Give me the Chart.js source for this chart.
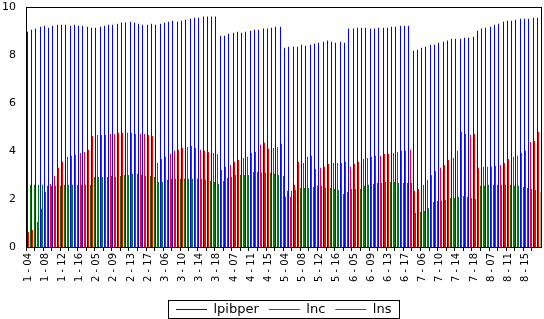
<!DOCTYPE html>
<html>
<head>
<meta charset="utf-8">
<script src="https://cdn.jsdelivr.net/npm/chart.js@4"></script>
<style>
  html, body { margin: 0; padding: 0; background: #fff; }
  #wrap { width: 544px; height: 319px; }
</style>
</head>
<body>
<div id="wrap"><canvas id="chart" width="544" height="319"></canvas></div>
<script>
// Cross-sections and years (one row of 15 years per cross-section)
const groups = [1, 2, 3, 4, 5, 6, 7, 8];
const years = ['04', '05', '06', '07', '08', '09', '10', '11', '12', '13', '14', '15', '16', '17', '18'];

const lpibper = [
    8.97, 9.05, 9.10, 9.18, 9.22, 9.14, 9.22, 9.26, 9.26, 9.26, 9.22, 9.26, 9.22, 9.22, 9.18,
    9.14, 9.14, 9.18, 9.22, 9.26, 9.26, 9.30, 9.35, 9.35, 9.39, 9.35, 9.30, 9.26, 9.26, 9.30,
    9.26, 9.30, 9.35, 9.39, 9.43, 9.39, 9.43, 9.47, 9.51, 9.55, 9.55, 9.60, 9.60, 9.60, 9.60,
    8.80, 8.80, 8.89, 8.93, 8.97, 8.93, 8.97, 9.01, 9.05, 9.05, 9.10, 9.10, 9.14, 9.18, 9.18,
    8.30, 8.34, 8.34, 8.34, 8.43, 8.39, 8.43, 8.47, 8.51, 8.55, 8.60, 8.55, 8.51, 8.55, 8.51,
    9.10, 9.10, 9.14, 9.14, 9.14, 9.10, 9.10, 9.14, 9.14, 9.14, 9.18, 9.18, 9.22, 9.22, 9.22,
    8.18, 8.22, 8.30, 8.34, 8.43, 8.43, 8.51, 8.55, 8.60, 8.68, 8.68, 8.68, 8.72, 8.72, 8.76,
    9.01, 9.10, 9.14, 9.18, 9.26, 9.30, 9.39, 9.43, 9.43, 9.47, 9.51, 9.51, 9.51, 9.55, 9.55
];

const lnc = [
    0.63, 0.71, 1.04, 1.59, 2.29, 2.63, 2.96, 3.30, 3.55, 3.76, 3.80, 3.84, 3.92, 3.96, 4.05,
    4.63, 4.67, 4.67, 4.67, 4.71, 4.71, 4.76, 4.76, 4.76, 4.76, 4.71, 4.71, 4.71, 4.67, 4.63,
    3.50, 3.67, 3.76, 3.88, 4.01, 4.05, 4.13, 4.17, 4.21, 4.13, 4.05, 4.01, 3.96, 3.92, 3.88,
    3.21, 3.34, 3.42, 3.55, 3.63, 3.71, 3.76, 3.92, 3.96, 4.26, 4.34, 4.09, 4.13, 4.17, 4.30,
    2.09, 2.09, 2.59, 3.55, 3.50, 3.76, 3.80, 3.25, 3.30, 3.34, 3.46, 3.50, 3.50, 3.50, 3.55,
    3.34, 3.46, 3.55, 3.67, 3.71, 3.76, 3.80, 3.80, 3.88, 3.88, 3.92, 3.96, 4.01, 4.01, 4.05,
    2.34, 2.42, 2.59, 2.80, 3.00, 3.17, 3.30, 3.42, 3.63, 3.71, 4.01, 4.80, 4.71, 4.67, 4.71,
    3.30, 3.34, 3.34, 3.34, 3.38, 3.42, 3.50, 3.67, 3.76, 3.80, 3.92, 4.01, 4.38, 4.42, 4.80
];

const lns = [
    2.59, 2.59, 2.59, 2.59, 2.55, 2.55, 2.55, 2.55, 2.59, 2.59, 2.59, 2.59, 2.59, 2.59, 2.59,
    2.92, 2.92, 2.92, 2.92, 2.96, 2.92, 2.96, 3.00, 3.00, 3.05, 3.05, 3.00, 2.96, 2.96, 2.92,
    2.71, 2.71, 2.80, 2.84, 2.84, 2.84, 2.84, 2.84, 2.84, 2.84, 2.84, 2.80, 2.75, 2.71, 2.63,
    2.75, 2.88, 2.92, 3.00, 3.00, 3.00, 3.00, 3.13, 3.13, 3.09, 3.09, 3.09, 3.05, 3.00, 2.96,
    2.34, 2.34, 2.38, 2.46, 2.46, 2.46, 2.50, 2.55, 2.55, 2.46, 2.46, 2.42, 2.38, 2.21, 2.29,
    2.42, 2.42, 2.42, 2.55, 2.59, 2.63, 2.67, 2.67, 2.71, 2.71, 2.71, 2.67, 2.67, 2.67, 2.67,
    1.42, 1.46, 1.50, 1.63, 1.88, 1.92, 1.92, 1.96, 2.04, 2.04, 2.09, 2.13, 2.09, 2.04, 2.00,
    2.55, 2.55, 2.59, 2.59, 2.59, 2.59, 2.59, 2.59, 2.55, 2.55, 2.50, 2.46, 2.42, 2.38, 2.29
];

const yTicks = [0, 2, 4, 6, 8, 10];

// Build "1 - 04" style category labels
const categories = [];
groups.forEach(g => {
    years.forEach(y => categories.push(g + ' - ' + y));
});

// Snap the thin bars to whole pixels so they stay crisp
const snapBars = {
    id: 'snapBars',
    beforeDatasetsDraw(chart) {
        chart.data.datasets.forEach((ds, i) => {
            chart.getDatasetMeta(i).data.forEach(el => {
                if (el.$snapped !== el.x) el.$raw = el.x;
                el.x = Math.round(el.$raw) + 0.5;
                el.$snapped = el.x;
                el.width = 1;
            });
        });
    }
};

// Box around the plot area
const frame = {
    id: 'frame',
    afterDraw(chart) {
        const a = chart.chartArea;
        const ctx = chart.ctx;
        ctx.save();
        ctx.strokeStyle = '#000';
        ctx.lineWidth = 1;
        ctx.strokeRect(Math.round(a.left) + 0.5, Math.round(a.top) + 0.5,
            Math.round(a.right) - Math.round(a.left), Math.round(a.bottom) - Math.round(a.top));
        ctx.restore();
    }
};

// Move the legend under the plot centre and draw a box round it
const legendBox = {
    id: 'legendBox',
    afterUpdate(chart) {
        const lg = chart.legend;
        const boxes = lg.legendHitBoxes;
        if (!boxes || !boxes.length) return;
        const dx = 176 - boxes[0].left;
        const dy = 303 - boxes[0].top;
        lg.left += dx; lg.right += dx;
        lg.top += dy; lg.bottom += dy;
        boxes.forEach(b => { b.left += dx; b.top += dy; });
    },
    afterDraw(chart) {
        const boxes = chart.legend.legendHitBoxes;
        if (!boxes || !boxes.length) return;
        const first = boxes[0];
        const last = boxes[boxes.length - 1];
        const x0 = Math.round(first.left - 8) + 0.5;
        const x1 = Math.round(last.left + last.width + 8) + 0.5;
        const ctx = chart.ctx;
        ctx.save();
        ctx.strokeStyle = '#000';
        ctx.lineWidth = 1;
        ctx.strokeRect(x0, 300.5, x1 - x0, 18);
        ctx.restore();
    }
};

const ctx = document.getElementById('chart').getContext('2d');

new Chart(ctx, {
    type: 'bar',
    data: {
        labels: categories,
        datasets: [
            { label: 'lpibper', data: lpibper, backgroundColor: '#0000ff', borderWidth: 0 },
            { label: 'lnc', data: lnc, backgroundColor: '#ff0000', borderWidth: 0 },
            { label: 'lns', data: lns, backgroundColor: '#008000', borderWidth: 0 }
        ]
    },
    options: {
        responsive: false,
        animation: false,
        layout: {
            padding: { top: 7, right: 3.5, left: 0, bottom: 0 }
        },
        datasets: {
            bar: { categoryPercentage: 1.0, barPercentage: 1.0, inflateAmount: 0 }
        },
        plugins: {
            tooltip: { enabled: false },
            legend: {
                position: 'bottom',
                labels: {
                    usePointStyle: true,
                    pointStyleWidth: 31,
                    boxHeight: 13,
                    padding: 10,
                    color: '#000',
                    font: { family: 'DejaVu Sans', size: 13 },
                    generateLabels: chart => chart.data.datasets.map((ds, i) => ({
                        text: ds.label,
                        fillStyle: ds.backgroundColor,
                        strokeStyle: ds.backgroundColor,
                        lineWidth: 1,
                        pointStyle: 'line',
                        hidden: false,
                        datasetIndex: i,
                        fontColor: '#000'
                    }))
                }
            }
        },
        scales: {
            x: {
                offset: true,
                border: { display: false },
                grid: {
                    offset: true,
                    drawOnChartArea: false,
                    drawTicks: true,
                    tickLength: 4,
                    tickWidth: 1,
                    tickColor: c => (c.index % 2 === 0 ? '#000' : 'rgba(0,0,0,0)')
                },
                ticks: {
                    autoSkip: false,
                    minRotation: 90,
                    maxRotation: 90,
                    padding: 2,
                    color: '#000',
                    font: { family: 'DejaVu Sans', size: 10 },
                    callback: function(value, index) {
                        return index % 4 === 0 ? this.getLabelForValue(value) : '';
                    }
                },
                afterFit: scale => {
                    scale.height = 39;
                    scale.paddingLeft = 0;
                    scale.paddingRight = 0;
                }
            },
            y: {
                min: 0,
                max: 10,
                border: { display: false },
                grid: { display: false, drawTicks: false },
                ticks: {
                    padding: 10,
                    color: '#000',
                    font: { family: 'DejaVu Sans', size: 11 }
                },
                afterBuildTicks: scale => { scale.ticks = yTicks.map(v => ({ value: v })); },
                afterFit: scale => {
                    scale.width = 26;
                    scale.paddingTop = 0;
                    scale.paddingBottom = 0;
                }
            }
        }
    },
    plugins: [snapBars, frame, legendBox]
});
</script>
</body>
</html>
